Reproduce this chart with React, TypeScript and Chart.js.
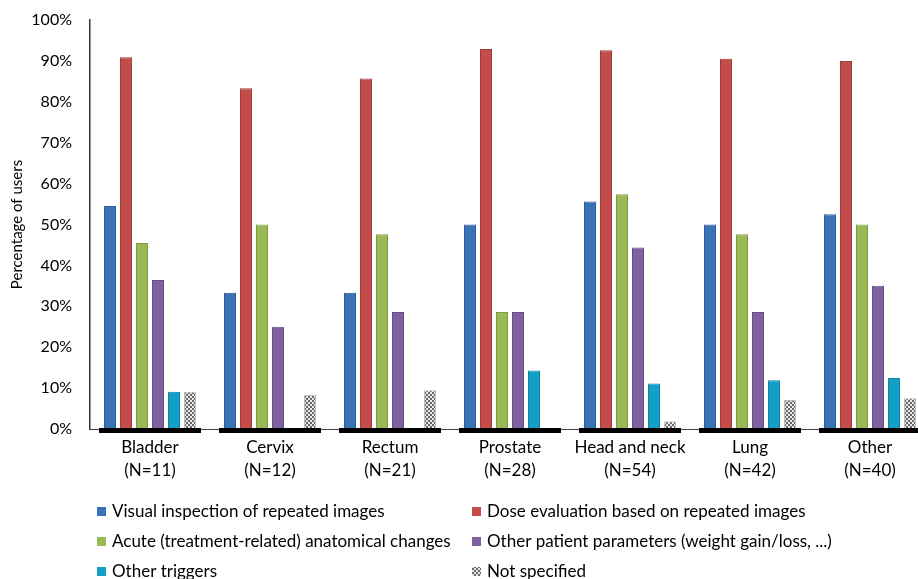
import React, { useEffect, useRef } from "react";
import { Chart, registerables } from "chart.js";

Chart.register(...registerables);

const categories: string[][] = [
  ["Bladder", "(N=11)"],
  ["Cervix", "(N=12)"],
  ["Rectum", "(N=21)"],
  ["Prostate", "(N=28)"],
  ["Head and neck", "(N=54)"],
  ["Lung", "(N=42)"],
  ["Other", "(N=40)"],
];

const seriesNames = [
  "Visual inspection of repeated images",
  "Dose evaluation based on repeated images",
  "Acute (treatment-related) anatomical changes",
  "Other patient parameters (weight gain/loss, ...)",
  "Other triggers",
  "Not specified",
];

const visualInspection = [54.5, 33.3, 33.3, 50.0, 55.6, 50.0, 52.5];
const doseEvaluation = [90.9, 83.3, 85.7, 92.9, 92.6, 90.5, 90.0];
const acuteChanges = [45.5, 50.0, 47.6, 28.6, 57.4, 47.6, 50.0];
const otherPatientParams = [36.4, 25.0, 28.6, 28.6, 44.4, 28.6, 35.0];
const otherTriggers = [9.1, 0, 0, 14.3, 11.1, 11.9, 12.5];
const notSpecified = [9.1, 8.3, 9.5, 0, 1.9, 7.1, 7.5];

const yTicks = [0, 10, 20, 30, 40, 50, 60, 70, 80, 90, 100];

const fills = ["#3a72b8", "#c44d4a", "#9aba55", "#7f61a0", "#14a0c6"];
const borders = ["#2d5d99", "#a03c39", "#7f9a43", "#664d85", "#0d84a5"];

function makePattern(): CanvasPattern | string {
  const c = document.createElement("canvas");
  c.width = 4;
  c.height = 4;
  const ctx = c.getContext("2d");
  if (!ctx) return "#999";
  ctx.fillStyle = "#e8e8e8";
  ctx.fillRect(0, 0, 4, 4);
  ctx.fillStyle = "#6a6a6a";
  ctx.fillRect(0, 0, 2, 2);
  ctx.fillRect(2, 2, 2, 2);
  const p = ctx.createPattern(c, "repeat");
  return p || "#999";
}

const FONT = "Lato, 'Open Sans', sans-serif";

export default function App() {
  const ref = useRef<HTMLCanvasElement | null>(null);

  useEffect(() => {
    if (!ref.current) return;
    const pattern = makePattern();
    const values = [visualInspection, doseEvaluation, acuteChanges, otherPatientParams, otherTriggers, notSpecified];
    const datasets = values.map((v, i) => ({
      label: seriesNames[i],
      data: v,
      backgroundColor: i < 5 ? fills[i] : pattern,
      borderColor: i < 5 ? borders[i] : "#bdbdbd",
      borderWidth: 1,
      barPercentage: 0.75,
      categoryPercentage: 0.8,
    }));

    const baselinePlugin = {
      id: "baseline",
      afterDatasetsDraw(chart: any) {
        const { ctx, chartArea, scales } = chart;
        const x = scales.x;
        const y0 = scales.y.getPixelForValue(0);
        ctx.save();
        ctx.strokeStyle = "#444";
        ctx.lineWidth = 1;
        ctx.beginPath();
        ctx.moveTo(chartArea.left, y0 + 0.5);
        ctx.lineTo(chartArea.right, y0 + 0.5);
        ctx.stroke();
        ctx.fillStyle = "#000";
        for (let i = 0; i < categories.length; i++) {
          const cx = x.getPixelForValue(i);
          const w = (chartArea.right - chartArea.left) / categories.length;
          ctx.fillRect(cx - w * 0.425, y0 - 1, w * 0.85, 5);
        }
        ctx.restore();
      },
    };

    const legendPlugin = {
      id: "customLegend",
      afterDraw(chart: any) {
        const { ctx } = chart;
        const colX = [97, 472];
        const rowY = [511, 541, 571];
        ctx.save();
        ctx.font = "17px " + FONT;
        ctx.textBaseline = "middle";
        chart.data.datasets.forEach((ds: any, i: number) => {
          const col = i % 2;
          const row = Math.floor(i / 2);
          const bx = colX[col];
          const by = rowY[row];
          ctx.fillStyle = ds.backgroundColor;
          ctx.fillRect(bx, by - 4, 9, 9);
          ctx.fillStyle = "#000";
          ctx.fillText(ds.label, bx + 15, by + 1);
        });
        ctx.restore();
      },
    };

    const chart = new Chart(ref.current, {
      type: "bar",
      data: { labels: categories, datasets },
      options: {
        animation: false,
        responsive: false,
        maintainAspectRatio: false,
        layout: { padding: { top: 20, left: 0, right: 0, bottom: 0 } },
        plugins: {
          legend: { display: false },
          tooltip: { enabled: false },
        },
        scales: {
          x: {
            grid: { display: false, drawTicks: false },
            border: { display: false },
            ticks: {
              color: "#000",
              font: { family: FONT, size: 17, lineHeight: 1.35 },
              padding: 7,
              maxRotation: 0,
              autoSkip: false,
            },
            afterFit(scale: any) {
              scale.height = 150;
              scale.paddingLeft = 0;
              scale.paddingRight = 0;
            },
          },
          y: {
            min: 0,
            max: 100,
            afterBuildTicks(scale: any) {
              scale.ticks = yTicks.map((v) => ({ value: v }));
            },
            grid: { display: false, drawTicks: false },
            border: { display: true, color: "#333", width: 1.5 },
            ticks: {
              color: "#000",
              font: { family: FONT, size: 16 },
              padding: 18,
              callback: (v: any) => v + "%",
            },
            title: {
              display: true,
              text: "Percentage of users",
              color: "#000",
              font: { family: FONT, size: 15 },
              padding: { top: 8, bottom: 0 },
            },
            afterFit(scale: any) {
              scale.width = 90;
              scale.paddingTop = 0;
              scale.paddingBottom = 0;
            },
          },
        },
      },
      plugins: [baselinePlugin, legendPlugin],
    });
    return () => chart.destroy();
  }, []);

  return (
    <div style={{ position: "absolute", left: 0, top: 0, width: 918, height: 579, overflow: "hidden", background: "#fff" }}>
      <canvas ref={ref} width={930} height={579} style={{ display: "block" }} />
    </div>
  );
}
